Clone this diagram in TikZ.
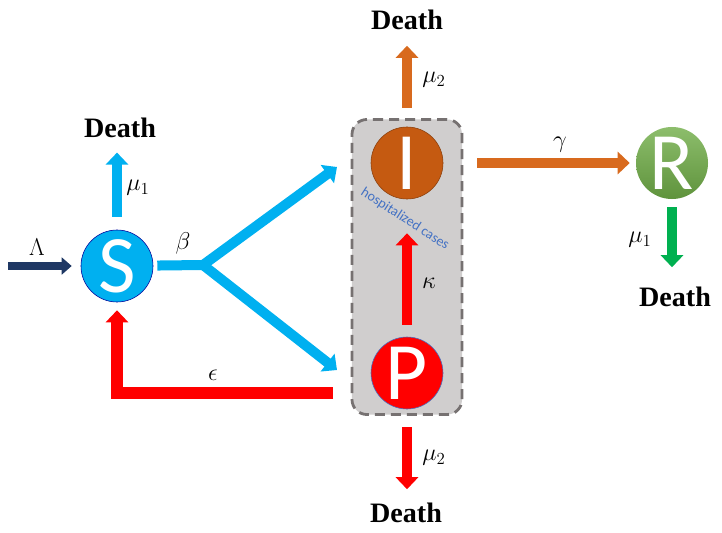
\documentclass[tikz,border=0pt]{standalone}
\usepackage{fontspec}
\setmainfont{Liberation Serif}
\newfontfamily\calibri{Carlito}
\usepackage{xcolor}
\usepackage{tikz}
\usetikzlibrary{arrows.meta, positioning}

\definecolor{sblue}{HTML}{00B0F0}
\definecolor{navy}{HTML}{1F3864}
\definecolor{ibrown}{HTML}{C55A11}
\definecolor{iorange}{HTML}{D86A1E}
\definecolor{rgreen}{HTML}{70AD47}
\definecolor{dgreen}{HTML}{00B050}
\definecolor{pred}{HTML}{FF0000}
\definecolor{boxgray}{HTML}{D0CECE}
\definecolor{dashgray}{HTML}{767171}
\definecolor{txtblue}{HTML}{4472C4}

\begin{document}
\begin{tikzpicture}[
    x=0.025cm, y=-0.025cm,
    comp/.style={circle, minimum size=1.8cm, inner sep=0pt, text=white, font=\calibri\fontsize{58}{58}\selectfont},
    flow/.style={line width=0.25cm, -{Triangle[length=0.3cm, width=0.55cm]}},
    death/.style={font=\bfseries\fontsize{20}{22}\selectfont, inner sep=0pt},
    rate/.style={font=\fontsize{17}{19}\selectfont, inner sep=1pt},
]
\useasboundingbox (0,0) rectangle (722,532);

% hospital box
\node[draw=dashgray, line width=0.07cm, dash pattern=on 0.25cm off 0.15cm, fill=boxgray,
      rounded corners=0.375cm, minimum width=2.75cm, minimum height=7.375cm] (hosp) at (407,267) {};
\node[rotate=-33, text=txtblue, font=\calibri\fontsize{10}{12}\selectfont] (hosptxt) at (405,219) {hospitalized cases};

% compartments
\node[comp, fill=sblue, draw=blue!60!black, thin] (S) at (117,266) {S};
\node[comp, fill=ibrown, draw=ibrown!70!black, thin] (I) at (407,163) {I};
\node[comp, fill=pred, draw=txtblue, thin] (P) at (407,373) {P};
\node[comp, top color=rgreen!80!white, bottom color=rgreen!85!black] (R) at (672,163) {R};

% death labels
\node[death] (deathS) at (120,128) {Death};
\node[death] (deathI) at (407,20) {Death};
\node[death] (deathR) at (675,297) {Death};
\node[death] (deathP) at (406,513) {Death};

% helper points
\coordinate (lamb) at (8,266);
\coordinate (fork) at (203,265);
\coordinate (toI) at (337,167);
\coordinate (toP) at (337,370);
\coordinate (fromP) at (333,393);

% recruitment
\draw[flow, navy, line width=0.2cm, -{Triangle[length=0.25cm, width=0.42cm]}, shorten >=0.225cm] (lamb) -- (S);
\node[rate] at (37,247) {$\Lambda$};

% S flows
\draw[flow, sblue, shorten <=0.325cm, shorten >=0.36cm] (S) -- (S |- deathS.south);
\node[rate] at (138,188) {$\mu_1$};
\draw[sblue, line width=0.25cm, shorten <=0.1cm] (S) -- (fork);
\draw[flow, sblue, line cap=round] (fork) -- (toI);
\draw[flow, sblue, line cap=round] (fork) -- (toP);
\node[rate] at (183,243) {$\beta$};

% P flows
\draw[flow, pred, line width=0.28cm, shorten >=0.2cm] (fromP) -| (S);
\node[rate] at (213,375) {$\epsilon$};
\draw[flow, pred, shorten <=0.3cm, shorten >=0.85cm] (P) -- (I);
\node[rate] at (429,283) {$\kappa$};
\draw[flow, pred, shorten <=0.45cm, shorten >=0.34cm] (P) -- (P |- deathP.north);
\node[rate] at (434,458) {$\mu_2$};

% I flows
\draw[flow, iorange, shorten <=0.475cm, shorten >=0.39cm] (I) -- (I |- deathI.south);
\node[rate] at (434,80) {$\mu_2$};
\draw[flow, iorange, shorten <=0.85cm, shorten >=0.15cm] (I) -- (R);
\node[rate] at (560,145) {$\gamma$};

% R flows
\draw[flow, dgreen, shorten <=0.2cm, shorten >=0.49cm] (R) -- (R |- deathR.north);
\node[rate] at (640,240) {$\mu_1$};

\end{tikzpicture}
\end{document}
